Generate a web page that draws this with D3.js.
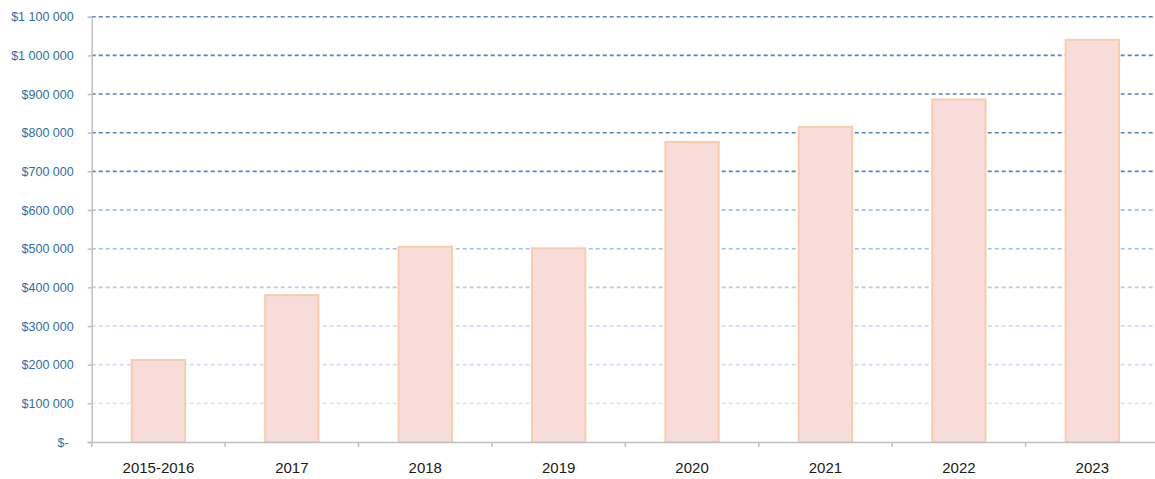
<!DOCTYPE html>
<html>
<head>
<meta charset="utf-8">
<script src="https://cdn.jsdelivr.net/npm/d3@7"></script>
<style>
  body { margin: 0; background: #fff; }
  svg { display: block; }
  .y-axis text { fill: #2f6ea8; font-family: "Liberation Sans", Arial, sans-serif; font-size: 12.5px; }
  .x-axis text { fill: #1a1a1a; font-family: "Liberation Sans", Arial, sans-serif; font-size: 15px; }
</style>
</head>
<body>
<script>
// data
var years = ["2015-2016", "2017", "2018", "2019", "2020", "2021", "2022", "2023"];
var amounts = [212000, 380000, 505000, 501000, 776000, 815000, 886000, 1040000];
var yTicks = [0, 100000, 200000, 300000, 400000, 500000, 600000, 700000, 800000, 900000, 1000000, 1100000];

var svgWidth = 1155;
var svgHeight = 479;

var margin = { top: 16.7, right: -4, bottom: 37, left: 91.7 };
var width = svgWidth - margin.left - margin.right;
var height = svgHeight - margin.top - margin.bottom;

var svg = d3.select("body")
  .append("svg")
  .attr("width", svgWidth)
  .attr("height", svgHeight);

var chartGroup = svg.append("g")
  .attr("transform", `translate(${margin.left}, ${margin.top})`);

var data = years.map((y, i) => ({ year: y, amount: amounts[i] }));

// scales
var x = d3.scaleBand()
  .domain(years)
  .range([0, width])
  .paddingInner(0.6)
  .paddingOuter(0.3);

var y = d3.scaleLinear()
  .domain([0, 1100000])
  .range([height, 0]);

// gridline colour gets darker going up
function gridColor(v) {
  if (v >= 700000) return "#5584c4";
  if (v >= 600000) return "#94b4e0";
  if (v >= 500000) return "#a2bfe6";
  if (v >= 400000) return "#b5ccec";
  if (v >= 300000) return "#c3d6f0";
  if (v >= 200000) return "#cfdef3";
  return "#dae5f6";
}

// gridlines
chartGroup.append("g")
  .selectAll("line")
  .data(yTicks.filter(d => d > 0))
  .enter()
  .append("line")
  .attr("x1", 0)
  .attr("x2", width)
  .attr("y1", d => y(d))
  .attr("y2", d => y(d))
  .attr("stroke", d => gridColor(d))
  .attr("stroke-width", 1.6)
  .attr("stroke-dasharray", "4,3");

// bars
chartGroup.selectAll("rect.bar")
  .data(data)
  .enter()
  .append("rect")
  .attr("class", "bar")
  .attr("x", d => x(d.year))
  .attr("y", d => y(d.amount))
  .attr("width", x.bandwidth())
  .attr("height", d => height - y(d.amount))
  .attr("fill", "#f7dcd9")
  .attr("stroke", "#f9cdab")
  .attr("stroke-width", 2);

// y axis
var fmt = d => d === 0 ? "$-" : "$" + d3.format(",")(d).replace(/,/g, " ");
var leftAxis = d3.axisLeft(y)
  .tickValues(yTicks)
  .tickFormat(fmt)
  .tickSize(4)
  .tickPadding(14);

var yAxis = chartGroup.append("g")
  .attr("class", "y-axis")
  .call(leftAxis);

yAxis.select(".domain").attr("stroke", "#bfbfbf").attr("stroke-width", 1.5);
yAxis.selectAll(".tick line").attr("stroke", "#bfbfbf").attr("stroke-width", 1.5);
yAxis.selectAll(".tick text").filter(d => d === 0).attr("dx", "-5");

// x axis
var bottomAxis = d3.axisBottom(x)
  .tickSize(0)
  .tickPadding(20);

var xAxis = chartGroup.append("g")
  .attr("class", "x-axis")
  .attr("transform", `translate(0, ${height})`)
  .call(bottomAxis);

xAxis.select(".domain").attr("stroke", "#bfbfbf").attr("stroke-width", 1.5);

// tick marks between categories
var bounds = years.map(d => x(d) + x.bandwidth() / 2 - x.step() / 2);
bounds.push(bounds[bounds.length - 1] + x.step());

xAxis.selectAll("line.sep")
  .data(bounds)
  .enter()
  .append("line")
  .attr("class", "sep")
  .attr("x1", d => d)
  .attr("x2", d => d)
  .attr("y1", 0)
  .attr("y2", 5)
  .attr("stroke", "#bfbfbf")
  .attr("stroke-width", 1.5);
</script>
</body>
</html>
